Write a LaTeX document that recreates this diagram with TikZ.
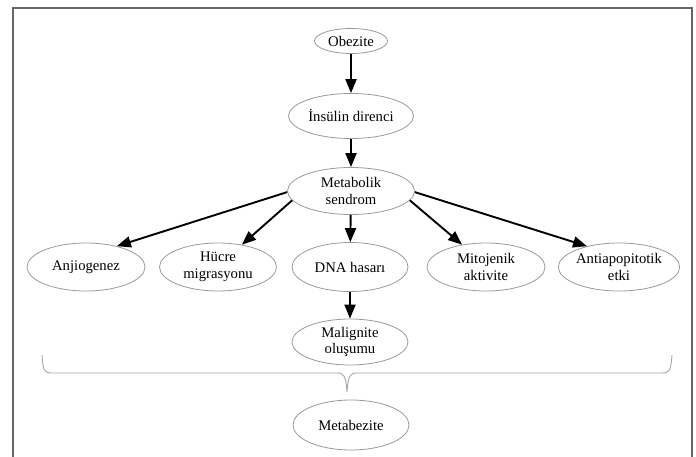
\documentclass[tikz,border=0pt]{standalone}
\usepackage{fontspec}
\setmainfont{Liberation Serif}
\usetikzlibrary{shapes.geometric,arrows.meta}
\tikzset{
  bub/.style={ellipse,draw=black!40,line width=0.8pt,inner sep=0pt,align=center,
    font=\fontsize{14.7}{16.5}\selectfont,text=black},
  arr/.style={line width=1.9pt,-{Triangle[length=14pt,width=11pt]}},
  frame/.style={draw=black!60,line width=1.6pt},
  bracecol/.style={draw=black!35,line width=0.9pt}
}
\begin{document}
\begin{tikzpicture}[x=1pt,y=-1pt]
\useasboundingbox (0,0) rectangle (696,457);
\draw[frame] (13,457) -- (13,8) -- (692,8) -- (692,457);
\node[bub,minimum width=73pt,minimum height=25pt] (obez) at (351,41) {Obezite};
\node[bub,minimum width=125pt,minimum height=45pt] (ins) at (351,116) {İnsülin direnci};
\node[bub,minimum width=127pt,minimum height=47pt] (meta) at (351,191) {Metabolik\\sendrom};
\node[bub,minimum width=118pt,minimum height=48pt] (anjio) at (86,267) {Anjiogenez};
\node[bub,minimum width=117pt,minimum height=48pt] (hucre) at (218,267) {Hücre\\migrasyonu};
\node[bub,minimum width=116pt,minimum height=49pt] (dna) at (350,267) {DNA hasarı};
\node[bub,minimum width=118pt,minimum height=48pt] (mito) at (486,267) {Mitojenik\\aktivite};
\node[bub,minimum width=117pt,minimum height=48pt] (anti) at (619,267) {Antiapopitotik\\etki};
\node[bub,minimum width=116pt,minimum height=46pt] (mal) at (350,342) {Malignite\\oluşumu};
\node[bub,minimum width=116pt,minimum height=50pt] (metab) at (351,425) {Metabezite};
\draw[arr] (obez) -- (ins);
\draw[arr] (ins) -- (meta);
\draw[arr] (meta.181) -- (anjio.34);
\draw[arr] (meta.189) -- (hucre.43);
\draw[arr] (meta) -- (dna);
\draw[arr] (meta.351) -- (mito.137);
\draw[arr] (meta.359) -- (anti.147);
\draw[arr] (dna) -- (mal);
\coordinate (bl) at (42,355);
\coordinate (br) at (672,355);
\coordinate (bt) at (347,392);
\draw[bracecol] (bl) .. controls (43,371) and (44,373) .. (52,373) -- (337,373)
  .. controls (344,373) and (346,376) .. (bt)
  .. controls (348,376) and (350,373) .. (357,373) -- (662,373)
  .. controls (669,373) and (671,371) .. (br);
\end{tikzpicture}
\end{document}
